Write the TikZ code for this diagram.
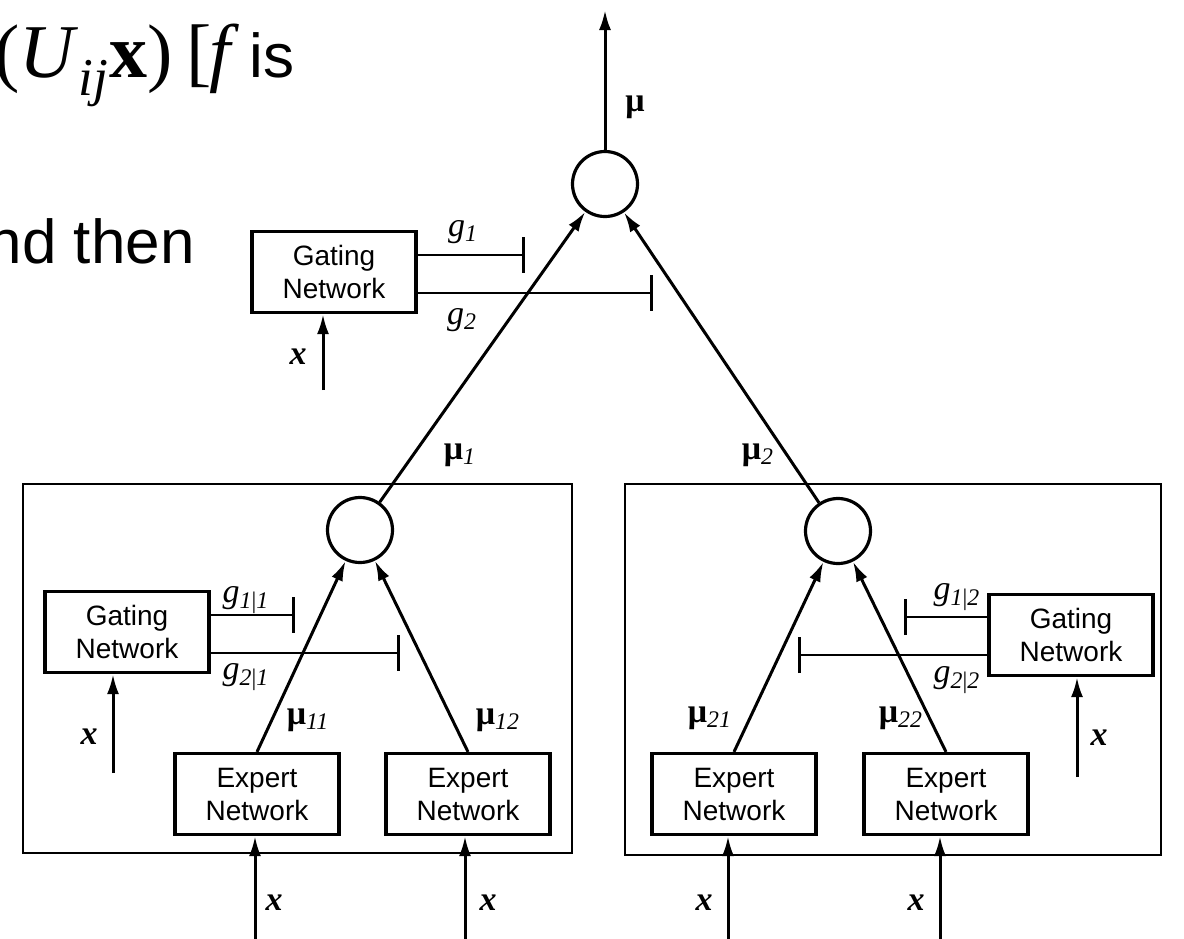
\documentclass[tikz,border=0pt]{standalone}
\usepackage{fontspec}
\setmainfont{Liberation Serif}
\setsansfont{Liberation Sans}
\usetikzlibrary{arrows.meta,positioning}

\begin{document}
\begin{tikzpicture}[x=0.5pt,y=-0.5pt,
    nb/.style={draw,line width=1.6pt,minimum width=82pt,minimum height=40.5pt,inner sep=0,
               align=center,font=\sffamily\fontsize{14}{16.5}\selectfont},
    fr/.style={draw,line width=1.4pt,inner sep=0},
    sm/.style={draw,circle,minimum size=32.5pt,inner sep=0,line width=1.6pt},
    e/.style={-{Latex[length=10pt,width=6pt]},line width=1.5pt},
    gt/.style={-{Bar[width=18pt]},line width=1.4pt},
    lb/.style={font=\fontsize{17}{19}\selectfont,inner sep=1pt}]
  \clip (0,0) rectangle (1184,938);

  \node[anchor=base east,inner sep=0] (eq) at (295,77)
    {\fontsize{38}{40}\selectfont\textit{f}(\textit{U}\textsubscript{\textit{ij}}\textbf{x})\kern7pt[\kern-1pt\textit{f}\kern5pt{\sffamily\fontsize{31}{34}\selectfont is}};
  \node[anchor=base east,inner sep=0,font=\sffamily\fontsize{31}{34}\selectfont] (eq2) at (195,263) {nd then};

  \node[fr,minimum width=274.5pt,minimum height=184.5pt] (lf) at (297.5,668.5) {};
  \node[fr,minimum width=268pt,minimum height=185.5pt] (rf) at (893,669.5) {};

  \node[sm] (top) at (605,184) {};
  \node[sm] (c1) at (360,530) {};
  \node[sm] (c2) at (838,531) {};

  \node[nb] (g0) at (334,272) {Gating\\Network};
  \node[nb] (g1) at (127,632) {Gating\\Network};
  \node[nb] (g2) at (1071,635) {Gating\\Network};

  \node[nb] (e11) at (257,794) {Expert\\Network};
  \node[nb] (e12) at (468,794) {Expert\\Network};
  \node[nb] (e21) at (734,794) {Expert\\Network};
  \node[nb] (e22) at (946,794) {Expert\\Network};

  \coordinate (out) at (605,10);
  \coordinate (b1) at (525,255);  \coordinate (b2) at (653,293);
  \coordinate (b11) at (295,615); \coordinate (b21) at (400,653);
  \coordinate (b12) at (904,617); \coordinate (b22) at (798,655);
  \coordinate (x0) at (323,390);  \coordinate (x1) at (113,773); \coordinate (x2) at (1077,777);
  \coordinate (i11) at (255,940); \coordinate (i12) at (465,940);
  \coordinate (i21) at (728,940); \coordinate (i22) at (940,940);

  \draw[e] (top) -- (out);
  \draw[e] (c1) -- (top); \draw[e] (c2) -- (top);
  \draw[e] (e11.north) -- (c1); \draw[e] (e12.north) -- (c1);
  \draw[e] (e21.north) -- (c2); \draw[e] (e22.north) -- (c2);

  \draw[gt] (g0.east |- b1) -- (b1); \draw[gt] (g0.east |- b2) -- (b2);
  \draw[gt] (g1.east |- b11) -- (b11); \draw[gt] (g1.east |- b21) -- (b21);
  \draw[gt] (g2.west |- b12) -- (b12); \draw[gt] (g2.west |- b22) -- (b22);

  \draw[e] (x0) -- (x0 |- g0.south);
  \draw[e] (x1) -- (x1 |- g1.south);
  \draw[e] (x2) -- (x2 |- g2.south);
  \draw[e] (i11) -- (i11 |- e11.south); \draw[e] (i12) -- (i12 |- e12.south);
  \draw[e] (i21) -- (i21 |- e21.south); \draw[e] (i22) -- (i22 |- e22.south);

  \node[lb] (lmu) at (635,107) {\textbf{μ}};
  \node[lb] (lg1) at (463,232) {\textit{g}\textsubscript{\textit{1}}};
  \node[lb] (lg2) at (462,320) {\textit{g}\textsubscript{\textit{2}}};
  \node[lb] (lx0) at (298,357) {\textbf{\textit{x}}};
  \node[lb] (lmu1) at (460,455) {\textbf{μ}\textsubscript{\textit{1}}};
  \node[lb] (lmu2) at (758,455) {\textbf{μ}\textsubscript{\textit{2}}};

  \node[lb] (lg11) at (246,600) {\textit{g}\textsubscript{\textit{1}|\textit{1}}};
  \node[lb] (lg21) at (246,677) {\textit{g}\textsubscript{\textit{2}|\textit{1}}};
  \node[lb] (lx1) at (89,737) {\textbf{\textit{x}}};
  \node[lb] (lmu11) at (308,720) {\textbf{μ}\textsubscript{\textit{11}}};
  \node[lb] (lmu12) at (498,720) {\textbf{μ}\textsubscript{\textit{12}}};

  \node[lb] (lg12) at (957,597) {\textit{g}\textsubscript{\textit{1}|\textit{2}}};
  \node[lb] (lg22) at (957,680) {\textit{g}\textsubscript{\textit{2}|\textit{2}}};
  \node[lb] (lx2) at (1099,738) {\textbf{\textit{x}}};
  \node[lb] (lmu21) at (710,718) {\textbf{μ}\textsubscript{\textit{21}}};
  \node[lb] (lmu22) at (901,718) {\textbf{μ}\textsubscript{\textit{22}}};

  \node[lb] (lx11) at (274,903) {\textbf{\textit{x}}};
  \node[lb] (lx12) at (488,903) {\textbf{\textit{x}}};
  \node[lb] (lx21) at (704,903) {\textbf{\textit{x}}};
  \node[lb] (lx22) at (916,903) {\textbf{\textit{x}}};
\end{tikzpicture}
\end{document}
